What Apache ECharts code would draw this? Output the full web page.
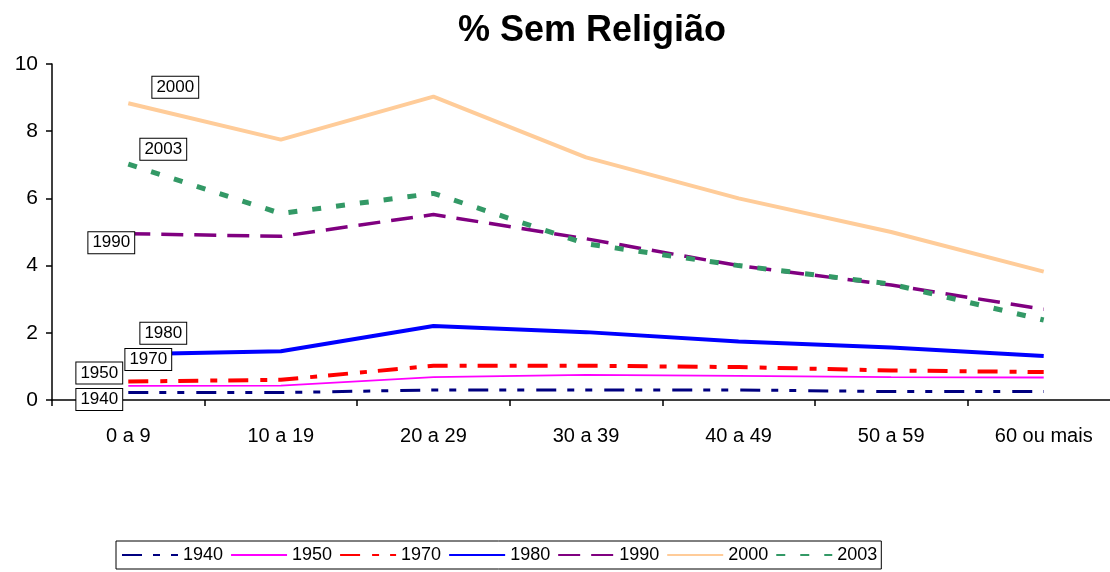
<!DOCTYPE html>
<html>
<head>
<meta charset="utf-8">
<script src="https://cdn.jsdelivr.net/npm/echarts@6/dist/echarts.min.js"></script>
<style>
html, body { margin: 0; padding: 0; background: #fff; }
#chart { width: 1110px; height: 572px; }
</style>
</head>
<body>
<div id="chart"></div>
<script>
// faixas etarias
var ageGroups = ['0 a 9', '10 a 19', '20 a 29', '30 a 39', '40 a 49', '50 a 59', '60 ou mais'];

// % sem religiao por censo
var v1940 = [0.22, 0.22, 0.3, 0.3, 0.3, 0.25, 0.25];
var v1950 = [0.42, 0.43, 0.68, 0.75, 0.72, 0.68, 0.67];
var v1970 = [0.55, 0.6, 1.02, 1.02, 0.98, 0.88, 0.83];
var v1980 = [1.36, 1.45, 2.2, 2.02, 1.74, 1.56, 1.31];
var v1990 = [4.95, 4.87, 5.52, 4.8, 4.0, 3.42, 2.7];
var v2000 = [8.83, 7.75, 9.03, 7.22, 6.0, 5.0, 3.82];
var v2003 = [7.02, 5.55, 6.15, 4.65, 4.0, 3.45, 2.38];

var years = ['1940', '1950', '1970', '1980', '1990', '2000', '2003'];
var values = [v1940, v1950, v1970, v1980, v1990, v2000, v2003];

// estilos de cada linha
var styles = {
    '1940': { color: '#000080', width: 3, type: [20, 11, 7, 11, 7, 12], offset: [-29, 7] },
    '1950': { color: '#FF00FF', width: 1.8, type: 'solid', offset: [-29, -13] },
    '1970': { color: '#FF0000', width: 4, type: [20, 12, 7, 11], offset: [20, -22] },
    '1980': { color: '#0000FF', width: 4, type: 'solid', offset: [35, -21] },
    '1990': { color: '#800080', width: 3.5, type: [22, 11], offset: [-17, 9] },
    '2000': { color: '#FFCC99', width: 4, type: 'solid', offset: [47, -16] },
    '2003': { color: '#339966', width: 5, type: [9, 15], offset: [35, -15] }
};

var fontName = 'Liberation Sans, Arial, sans-serif';

var series = [];
// linhas
for (var i = 0; i < years.length; i++) {
    var st = styles[years[i]];
    series.push({
        name: years[i],
        type: 'line',
        data: values[i],
        symbol: 'none',
        color: st.color,
        lineStyle: { color: st.color, width: st.width, type: st.type },
        z: 2 + i
    });
}
// caixas com o ano, por cima de todas as linhas
for (var i = 0; i < years.length; i++) {
    var st = styles[years[i]];
    var data = [];
    for (var j = 0; j < values[i].length; j++) {
        if (j == 0) {
            data.push({
                value: values[i][j],
                label: {
                    show: true,
                    position: 'inside',
                    offset: st.offset,
                    formatter: years[i],
                    color: '#000',
                    fontSize: 17,
                    fontFamily: fontName,
                    backgroundColor: '#fff',
                    borderColor: '#000',
                    borderWidth: 1,
                    padding: [3, 4, 1, 4]
                }
            });
        } else {
            data.push(values[i][j]);
        }
    }
    series.push({
        name: 'rotulo' + years[i],
        type: 'line',
        data: data,
        symbol: 'circle',
        symbolSize: 0,
        lineStyle: { width: 0, opacity: 0 },
        silent: true,
        z: 20
    });
}

var myChart = echarts.init(document.getElementById('chart'));
var option = {
    animation: false,
    backgroundColor: '#fff',
    title: {
        text: '% Sem Religião',
        left: 587,
        textAlign: 'center',
        top: 8,
        textStyle: { fontSize: 36, fontWeight: 'bold', color: '#000', fontFamily: fontName }
    },
    legend: {
        data: years,
        left: 116,
        top: 541,
        itemWidth: 56,
        itemHeight: 14,
        itemGap: 7,
        padding: [5, 4, 5, 5],
        borderColor: '#000',
        borderWidth: 1,
        itemStyle: { opacity: 0 },
        textStyle: { fontSize: 18, color: '#000', fontFamily: fontName }
    },
    grid: {
        left: 52,
        top: 64,
        width: 1068,
        height: 336,
        outerBoundsMode: 'none'
    },
    xAxis: {
        type: 'category',
        data: ageGroups,
        boundaryGap: true,
        axisLine: { lineStyle: { color: '#000', width: 1.5 } },
        axisTick: { show: true, length: 6, lineStyle: { color: '#000', width: 1.5 } },
        axisLabel: { color: '#000', fontSize: 20, margin: 26, fontFamily: fontName },
        splitLine: { show: false }
    },
    yAxis: {
        type: 'value',
        min: 0,
        max: 10,
        interval: 2,
        axisLine: { show: true, lineStyle: { color: '#000', width: 1.5 } },
        axisTick: { show: true, length: 6, lineStyle: { color: '#000', width: 1.5 } },
        axisLabel: { color: '#000', fontSize: 21, margin: 14, fontFamily: fontName },
        splitLine: { show: false }
    },
    series: series
};
myChart.setOption(option);
</script>
</body>
</html>
